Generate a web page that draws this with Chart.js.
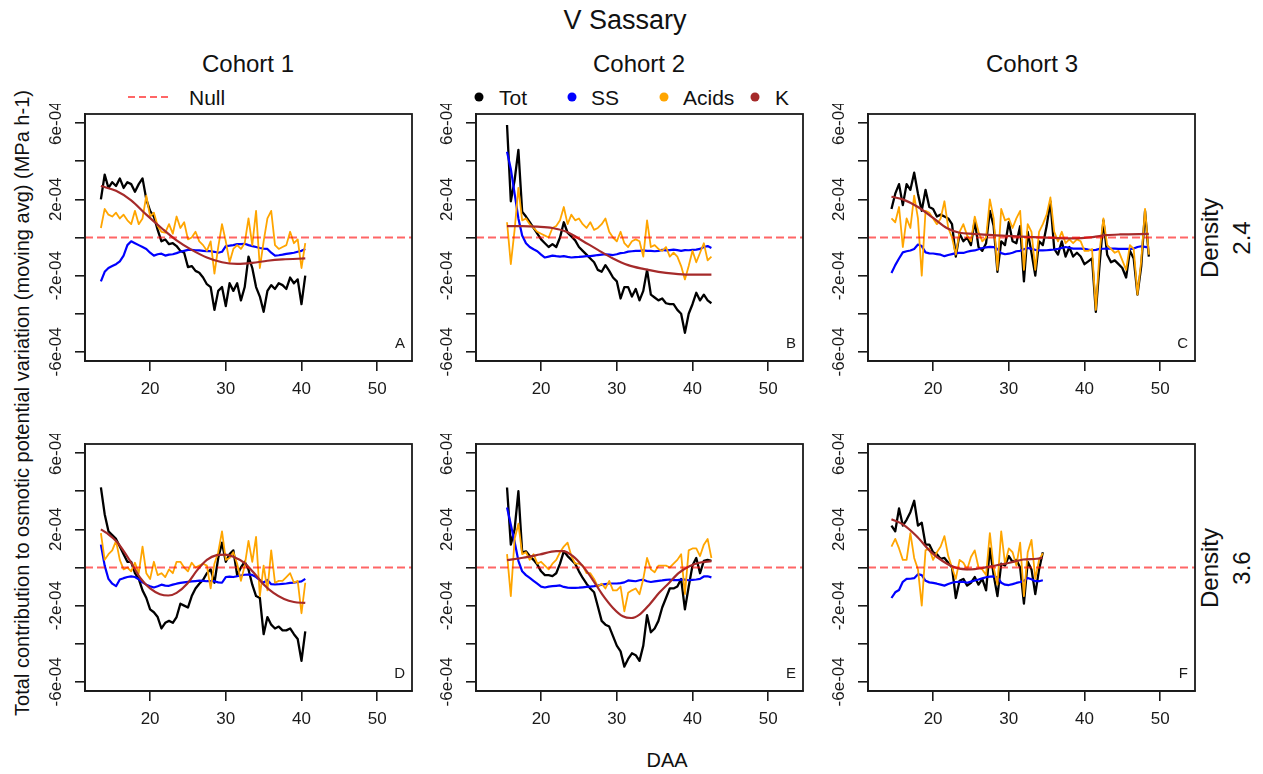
<!DOCTYPE html>
<html>
<head>
<meta charset="utf-8">
<title>V Sassary</title>
<script src="https://cdn.jsdelivr.net/npm/chart.js"></script>
<style>
  body { margin: 0; background: #fff; }
  #page { position: relative; width: 1263px; height: 774px; overflow: hidden; background: #fff; }
  .t { position: absolute; white-space: nowrap; line-height: 1; color: #111;
       font-family: "Liberation Sans", Arial, Helvetica, sans-serif; transform: translate(-50%, -50%); }
  .r { transform: translate(-50%, -50%) rotate(-90deg); }
  .l { transform: translate(0, -50%); }
  .dot { position: absolute; width: 9px; height: 9px; border-radius: 50%; transform: translate(-50%, -50%); }
  canvas { position: absolute; }
</style>
</head>
<body>
<div id="page">
  <div class="t" style="left:625px;top:20px;font-size:27px">V Sassary</div>
  <div class="t" style="left:248px;top:64px;font-size:24px">Cohort 1</div>
  <div class="t" style="left:639px;top:64px;font-size:24px">Cohort 2</div>
  <div class="t" style="left:1032px;top:64px;font-size:24px">Cohort 3</div>

  <svg style="position:absolute;left:128px;top:92px" width="46" height="10">
    <line x1="0" y1="5" x2="44" y2="5" stroke="rgba(255,0,0,0.6)" stroke-width="2" stroke-dasharray="7 4"/>
  </svg>
  <div class="t l" style="left:189px;top:97px;font-size:21px">Null</div>
  <div class="dot" style="left:479px;top:97px;background:#000"></div>
  <div class="t l" style="left:499px;top:97px;font-size:21px">Tot</div>
  <div class="dot" style="left:572px;top:97px;background:#0000FF"></div>
  <div class="t l" style="left:591px;top:97px;font-size:21px">SS</div>
  <div class="dot" style="left:664px;top:97px;background:#FFA500"></div>
  <div class="t l" style="left:683px;top:97px;font-size:21px">Acids</div>
  <div class="dot" style="left:755px;top:97px;background:#A52A2A"></div>
  <div class="t l" style="left:775px;top:97px;font-size:21px">K</div>

  <div class="t r" style="left:1210px;top:238px;font-size:24px">Density</div>
  <div class="t r" style="left:1242px;top:238px;font-size:24px">2.4</div>
  <div class="t r" style="left:1210px;top:568px;font-size:24px">Density</div>
  <div class="t r" style="left:1242px;top:568px;font-size:24px">3.6</div>

  <div class="t r" style="left:22px;top:403px;font-size:20px">Total contribution to osmotic potential variation (moving avg) (MPa h-1)</div>
  <div class="t" style="left:667px;top:760px;font-size:20px">DAA</div>

  <canvas id="pA" width="412" height="307" style="left:10px;top:104px"></canvas>
  <canvas id="pB" width="412" height="307" style="left:401px;top:104px"></canvas>
  <canvas id="pC" width="412" height="307" style="left:793px;top:104px"></canvas>
  <canvas id="pD" width="412" height="307" style="left:10px;top:434px"></canvas>
  <canvas id="pE" width="412" height="307" style="left:401px;top:434px"></canvas>
  <canvas id="pF" width="412" height="307" style="left:793px;top:434px"></canvas>
</div>

<script>
// values are read in units of 1e-4 MPa h-1
const UNIT = 1e-4;
const X_MIN = 11.4, X_MAX = 54.6;
const Y_MIN = -6.48e-4, Y_MAX = 6.48e-4;
const xTickVals = [20, 30, 40, 50];
const yTickVals = [-6e-4, -4e-4, -2e-4, 0, 2e-4, 4e-4, 6e-4];
const yLabelVals = [-6e-4, -2e-4, 2e-4, 6e-4];
const yTickLabels = ['-6e-04', '-2e-04', '2e-04', '6e-04'];
const FONT = '"Liberation Sans", Arial, Helvetica, sans-serif';

// ---- Cohort 1, density 2.4 (A)
const daaA = [13.5,14,14.5,15,15.5,16,16.5,17,17.5,18,18.5,19,19.5,20,20.5,21,21.5,22,22.5,23,23.5,24,24.5,25,25.5,26,26.5,27,27.5,28,28.5,29,29.5,30,30.5,31,31.5,32,32.5,33,33.5,34,34.5,35,35.5,36,36.5,37,37.5,38,38.5,39,39.5,40,40.5];
const totA = [2.0,3.3,2.6,2.9,2.7,3.1,2.6,2.9,2.8,2.4,2.8,3.1,2.0,1.4,1.1,0.4,-0.2,-0.1,-0.35,-0.3,-0.45,-0.7,-0.8,-1.55,-1.5,-1.75,-1.85,-2.1,-2.45,-2.6,-3.8,-2.8,-2.6,-3.6,-2.4,-2.8,-2.4,-3.3,-2.6,-1.0,-1.6,-2.6,-3.1,-3.9,-2.8,-2.5,-2.7,-2.4,-2.5,-2.7,-2.1,-2.4,-2.2,-3.5,-2.0];
const ssA = [-2.3,-1.8,-1.6,-1.5,-1.4,-1.25,-0.95,-0.4,-0.2,-0.3,-0.4,-0.5,-0.6,-0.8,-0.95,-0.88,-0.85,-0.95,-0.9,-0.88,-0.82,-0.75,-0.7,-0.65,-0.65,-0.67,-0.68,-0.7,-0.72,-0.72,-0.75,-0.8,-0.75,-0.45,-0.43,-0.4,-0.35,-0.35,-0.33,-0.4,-0.45,-0.5,-0.55,-0.58,-0.6,-0.8,-0.95,-0.93,-0.9,-0.86,-0.83,-0.8,-0.75,-0.7,-0.6];
const acidsA = [0.5,1.5,1.2,1.1,1.3,1.0,1.2,0.9,0.7,1.4,0.7,1.0,2.2,1.1,1.3,0.6,0.3,0.25,0.7,0.2,1.1,0.5,0.8,-0.1,0.0,0.3,-0.2,-0.4,-0.7,-0.2,-1.9,-0.5,0.7,-0.2,-1.3,-0.6,-0.4,-0.6,-0.3,1.0,-0.4,1.4,-1.6,-0.2,1.0,1.4,-0.4,-0.6,-0.5,-0.4,0.3,-0.3,-0.1,-1.6,-0.3];
const kDaaA = [13.5,15.5,17.5,19.5,21.5,23.5,25.5,27.5,29.5,31.5,33.5,35.5,37.5,40.5];
const kA = [2.7,2.45,1.95,1.2,0.5,-0.15,-0.65,-1.05,-1.3,-1.38,-1.33,-1.22,-1.15,-1.1];

// ---- Cohort 2, density 2.4 (B)
const daaB = [15.5,16,16.5,17,17.5,18,18.5,19,19.5,20,20.5,21,21.5,22,22.5,23,23.5,24,24.5,25,25.5,26,26.5,27,27.5,28,28.5,29,29.5,30,30.5,31,31.5,32,32.5,33,33.5,34,34.5,35,35.5,36,36.5,37,37.5,38,38.5,39,39.5,40,40.5,41,41.5,42,42.5];
const totB = [5.9,1.9,3.0,4.6,1.35,1.1,0.8,0.5,0.2,-0.1,-0.3,-0.5,-0.35,-0.5,0.0,0.8,0.25,0.05,-0.15,-0.5,-0.7,-0.9,-1.1,-1.3,-1.7,-1.8,-1.45,-1.75,-2.1,-2.3,-3.2,-2.6,-2.6,-3.1,-2.7,-3.3,-2.8,-1.7,-3.0,-3.15,-3.3,-3.2,-3.45,-3.5,-3.5,-3.8,-4.0,-5.0,-4.0,-3.5,-2.9,-3.3,-3.0,-3.3,-3.45];
const ssB = [4.5,3.6,2.3,1.0,0.1,-0.3,-0.5,-0.62,-0.72,-0.9,-1.05,-1.0,-0.95,-0.98,-1.0,-0.98,-1.02,-1.05,-1.03,-1.02,-1.0,-0.98,-0.98,-0.95,-0.92,-0.9,-0.88,-0.9,-0.92,-0.88,-0.82,-0.8,-0.74,-0.72,-0.7,-0.7,-0.68,-0.7,-0.7,-0.72,-0.7,-0.65,-0.68,-0.66,-0.64,-0.66,-0.7,-0.66,-0.67,-0.65,-0.64,-0.6,-0.5,-0.45,-0.55];
const acidsB = [0.8,-1.4,0.4,2.6,0.9,1.0,0.7,0.5,0.3,0.2,0.1,0.0,0.5,0.6,0.9,1.6,0.7,1.2,0.9,1.0,0.7,0.5,0.8,0.4,0.5,0.7,1.0,0.3,0.0,-0.2,0.3,-0.3,-0.5,-0.2,-0.1,-0.2,-1.0,0.9,-0.5,-0.4,-0.6,-0.7,-0.5,-1.0,-0.8,-1.0,-1.5,-2.2,-1.5,-0.7,-1.3,-0.8,-0.3,-1.2,-1.0];
const kDaaB = [15.5,17.5,19.5,21.5,23.5,25.5,27.5,29.5,31.5,33.5,35.5,37.5,39.5,42.5];
const kB = [0.6,0.6,0.57,0.5,0.28,-0.18,-0.65,-1.1,-1.45,-1.65,-1.8,-1.9,-1.95,-1.95];

// ---- Cohort 3, density 2.4 (C)
const daaC = [14.5,15,15.5,16,16.5,17,17.5,18,18.5,19,19.5,20,20.5,21,21.5,22,22.5,23,23.5,24,24.5,25,25.5,26,26.5,27,27.5,28,28.5,29,29.5,30,30.5,31,31.5,32,32.5,33,33.5,34,34.5,35,35.5,36,36.5,37,37.5,38,38.5,39,39.5,40,40.5,41,41.5,42,42.5,43,43.5,44,44.5,45,45.5,46,46.5,47,47.5,48,48.5];
const totC = [1.5,2.3,2.8,1.7,2.8,2.5,3.4,2.3,1.4,2.5,
  1.6,1.5,1.1,1.2,1.1,1.0,0.7,-1.0,0.2,-0.2,
  0.0,-0.4,0.9,-0.5,-0.7,-0.3,1.4,0.6,-1.8,-0.2,
  -0.4,0.8,-0.2,-0.3,0.6,-2.3,0.3,-0.8,-2.0,-0.2,
  -0.4,0.6,1.9,-0.6,-0.9,-0.2,-1.0,-0.5,-1.0,-0.8,
  -1.0,-1.4,-1.25,-1.1,-3.9,-1.4,0.9,-0.9,-1.3,-1.2,
  -1.4,-1.6,-2.1,-0.7,-1.1,-3.0,-1.5,1.4,-1.0];
const ssC = [-1.86,-1.45,-1.1,-0.78,-0.72,-0.68,-0.6,-0.37,-0.45,-0.78,
  -0.83,-0.84,-0.87,-0.9,-0.98,-0.92,-0.87,-0.82,-0.81,-0.81,
  -0.75,-0.7,-0.68,-0.62,-0.55,-0.52,-0.49,-0.5,-0.6,-0.82,
  -0.88,-0.85,-0.8,-0.72,-0.7,-0.62,-0.55,-0.6,-0.65,-0.68,
  -0.68,-0.67,-0.65,-0.63,-0.6,-0.55,-0.5,-0.54,-0.58,-0.58,
  -0.58,-0.6,-0.64,-0.67,-0.65,-0.6,-0.59,-0.58,-0.58,-0.58,
  -0.6,-0.6,-0.6,-0.6,-0.58,-0.5,-0.46,-0.49,-0.54];
const acidsC = [1.0,0.8,1.6,-0.5,1.0,0.5,2.2,1.0,-2.0,1.4,
  1.3,1.0,0.7,1.0,1.9,0.5,0.0,-0.9,0.3,0.7,
  0.1,-0.2,1.1,0.3,-0.2,0.0,2.0,1.0,-1.7,1.5,
  0.9,1.0,0.5,1.0,1.4,-1.7,0.7,0.3,-1.7,0.3,
  0.7,1.2,2.1,0.3,-0.2,0.3,-0.3,-0.1,-0.3,-0.1,
  -0.2,-0.7,-0.7,-0.6,-3.8,-0.7,1.0,-0.4,-0.6,-0.8,
  -0.7,-1.2,-1.7,-0.4,-0.6,-3.0,-1.2,1.5,-0.9];
const kDaaC = [14.5,16,18,20,21.8,23.5,25.3,27.9,30.6,33.2,35.9,38.5,41.1,42.9,44.7,48.5];
const kC = [2.14,2.0,1.6,1.03,0.5,0.25,0.19,0.12,0.07,0.02,-0.02,-0.05,0.02,0.12,0.16,0.19];

// ---- Cohort 1, density 3.6 (D)
const daaD = daaA;
const totD = [4.2,2.8,1.9,1.7,1.5,1.1,0.7,0.3,0.3,-0.3,
  -0.6,-1.2,-1.6,-2.2,-2.35,-2.6,-3.2,-2.9,-2.8,-2.9,
  -2.6,-1.9,-2.0,-2.1,-1.5,-1.1,-0.85,-0.65,-0.3,-0.1,
  -0.8,0.5,1.3,0.3,0.7,0.9,-0.4,0.0,0.3,-0.1,
  -0.9,-1.5,-1.6,-3.5,-2.6,-3.0,-3.2,-3.1,-3.3,-3.3,
  -3.2,-3.5,-3.75,-4.9,-3.35];
const ssD = [1.2,0.1,-0.6,-0.85,-0.98,-0.63,-0.56,-0.5,-0.47,-0.5,
  -0.62,-0.78,-0.9,-0.98,-1.05,-0.98,-0.9,-0.95,-0.96,-0.9,
  -0.85,-0.81,-0.78,-0.75,-0.73,-0.71,-0.69,-0.7,-0.72,-0.71,
  -0.72,-0.78,-0.8,-0.5,-0.48,-0.5,-0.46,-0.42,-0.38,-0.37,
  -0.39,-0.5,-0.66,-0.8,-0.65,-0.88,-0.89,-0.88,-0.86,-0.84,
  -0.81,-0.79,-0.76,-0.73,-0.6];
const acidsD = [1.8,0.4,0.7,0.9,1.4,0.4,-0.1,0.0,-0.2,0.25,
  -0.3,1.1,-0.3,-0.6,0.3,-0.4,-0.3,-0.5,-0.1,-0.3,
  0.3,0.3,0.0,-0.2,0.25,0.0,0.1,0.2,0.1,-1.1,
  0.2,0.8,1.9,0.4,0.5,0.8,0.2,-0.7,0.1,1.4,
  0.3,1.6,-1.5,0.1,-1.2,0.9,-0.8,-0.7,-0.7,-0.5,
  -0.3,-0.8,-0.7,-2.4,-0.8];
const kDaaD = [13.5,14.3,15.6,17.35,18.7,20,21.3,22.4,23.5,24.9,26.2,27.5,28.8,29.9,31,32.4,33.7,35,36.3,37.7,39,40.5];
const kD = [2.0,1.8,1.35,0.35,-0.55,-1.1,-1.4,-1.47,-1.33,-0.85,-0.15,0.4,0.65,0.68,0.56,0.25,-0.28,-0.89,-1.33,-1.65,-1.81,-1.86];

// ---- Cohort 2, density 3.6 (E)
const daaE = daaB;
const totE = [4.2,1.2,2.0,4.0,0.8,0.85,0.6,0.4,0.15,-0.2,
  -0.4,-0.4,-0.45,-0.3,0.2,0.85,0.6,0.4,0.2,-0.2,
  -0.55,-0.85,-1.1,-1.3,-2.05,-2.8,-3.0,-3.1,-3.6,-4.1,
  -4.4,-5.2,-4.8,-4.5,-4.6,-4.9,-4.1,-2.5,-3.4,-3.2,
  -2.8,-2.1,-1.6,-1.1,-1.1,-1.0,-0.6,-2.2,-1.0,0.1,
  0.5,-0.3,0.35,0.4,0.35];
const ssE = [3.15,2.25,1.35,0.35,-0.2,-0.4,-0.55,-0.7,-0.85,-1.0,
  -1.05,-1.0,-0.98,-0.96,-0.94,-1.02,-1.06,-1.07,-1.07,-1.06,
  -1.04,-1.02,-1.0,-0.98,-0.95,-0.9,-0.87,-0.84,-0.84,-0.84,
  -0.82,-0.78,-0.68,-0.7,-0.72,-0.67,-0.64,-0.72,-0.76,-0.73,
  -0.7,-0.68,-0.65,-0.63,-0.66,-0.66,-0.64,-0.64,-0.67,-0.65,
  -0.63,-0.6,-0.47,-0.46,-0.52];
const acidsE = [0.7,-1.5,1.5,2.3,0.7,0.8,0.4,0.7,0.2,0.3,
  0.1,-0.1,0.2,0.4,0.8,1.1,1.3,0.6,0.2,0.2,
  0.1,-0.3,-0.3,-0.6,-1.0,-0.85,-1.1,-0.7,-1.2,-1.2,
  -1.0,-2.3,-1.33,-1.2,-1.1,-1.4,-0.6,0.5,-0.1,-0.25,
  0.1,0.1,0.1,0.0,0.2,0.4,0.7,-1.4,0.9,1.0,
  1.0,0.6,1.2,1.5,0.5];
const kDaaE = [15.5,17.6,19.8,22.0,22.9,24.2,25.5,26.8,28.1,29.5,30.8,31.9,33.0,34.3,35.6,36.9,38.2,39.6,40.9,42.5];
const kE = [0.39,0.51,0.68,0.86,0.86,0.6,0.07,-0.63,-1.42,-2.12,-2.56,-2.65,-2.47,-1.95,-1.33,-0.81,-0.28,0.07,0.25,0.33];

// ---- Cohort 3, density 3.6 (F)
const daaF = [14.5,15,15.5,16,16.5,17,17.5,18,18.5,19,19.5,20,20.5,21,21.5,22,22.5,23,23.5,24,24.5,25,25.5,26,26.5,27,27.5,28,28.5,29,29.5,30,30.5,31,31.5,32,32.5,33,33.5,34,34.5];
const totF = [2.2,1.9,3.1,2.2,2.5,2.9,3.5,2.2,2.35,1.2,
  1.2,0.8,0.7,0.45,0.5,0.25,0.0,-1.6,-0.7,-0.6,
  -0.95,-0.8,-0.5,-0.9,-0.6,-1.2,1.0,-0.4,-1.5,0.2,
  0.1,0.6,0.3,0.4,0.0,-1.9,0.3,-0.1,-1.4,-0.1,
  0.8];
const ssF = [-1.6,-1.3,-1.18,-0.75,-0.6,-0.59,-0.56,-0.35,-0.4,-0.7,
  -0.78,-0.81,-0.85,-0.9,-0.95,-0.87,-0.8,-0.76,-0.75,-0.75,
  -0.8,-0.74,-0.68,-0.63,-0.57,-0.51,-0.48,-0.47,-0.52,-0.8,
  -0.9,-0.92,-0.87,-0.81,-0.76,-0.7,-0.55,-0.62,-0.72,-0.72,
  -0.67];
const acidsF = [1.1,1.5,1.0,0.4,0.4,1.8,0.5,-0.1,-2.0,0.9,
  1.0,0.4,0.8,1.1,1.65,0.6,0.0,-0.6,0.4,0.25,
  -0.1,0.55,0.9,0.0,-0.1,-0.4,1.8,0.0,-0.9,1.9,
  0.2,1.0,0.8,0.1,1.3,-1.5,0.8,1.45,-0.6,0.4,
  0.75];
const kDaaF = [14.5,16.0,17.8,19.6,21.3,23.1,24.9,26.6,28.4,30.1,31.9,33.7,34.45];
const kF = [2.53,2.26,1.65,0.86,0.33,-0.02,-0.1,-0.02,0.12,0.25,0.42,0.46,0.51];

const COLORS = { tot: '#000000', ss: '#0000FF', acids: '#FFA500', k: '#A52A2A', nul: 'rgba(255,0,0,0.6)' };
const INK = '#1a1a1a';

const pts = (xs, ys) => xs.map((x, i) => ({ x: x, y: ys[i] * UNIT }));

// frame, rotated y tick labels, panel letter
const panelDecor = {
  id: 'panelDecor',
  afterDraw(chart, args, opts) {
    const ctx = chart.ctx, a = chart.chartArea, y = chart.scales.y;
    ctx.save();
    ctx.strokeStyle = INK;
    ctx.lineWidth = 1.8;
    ctx.strokeRect(a.left, a.top, a.right - a.left, a.bottom - a.top);
    ctx.fillStyle = INK;
    ctx.font = '17px ' + FONT;
    ctx.textAlign = 'center';
    ctx.textBaseline = 'middle';
    yLabelVals.forEach((v, i) => {
      ctx.save();
      ctx.translate(a.left - 29, y.getPixelForValue(v));
      ctx.rotate(-Math.PI / 2);
      ctx.fillText(yTickLabels[i], 0, 0);
      ctx.restore();
    });
    ctx.font = '15px ' + FONT;
    ctx.textAlign = 'right';
    ctx.fillText(opts.letter, a.right - 7, a.bottom - 17);
    ctx.restore();
  }
};

function axisStyle() {
  return {
    grid: { drawOnChartArea: false, drawTicks: true, tickLength: 10, color: INK, lineWidth: 1.6 },
    border: { display: true, color: INK, width: 1.8 }
  };
}

function makePanel(id, letter, xs, tot, ss, acids, kx, k) {
  new Chart(document.getElementById(id), {
    type: 'line',
    data: {
      datasets: [
        { label: 'Null', data: [{ x: X_MIN, y: 0 }, { x: X_MAX, y: 0 }], borderColor: COLORS.nul, borderWidth: 2.2, borderDash: [8, 4] },
        { label: 'K', data: pts(kx, k), borderColor: COLORS.k, borderWidth: 2.2, cubicInterpolationMode: 'monotone' },
        { label: 'Acids', data: pts(xs, acids), borderColor: COLORS.acids, borderWidth: 1.8 },
        { label: 'SS', data: pts(xs, ss), borderColor: COLORS.ss, borderWidth: 2.2 },
        { label: 'Tot', data: pts(xs, tot), borderColor: COLORS.tot, borderWidth: 2.3 }
      ]
    },
    options: {
      responsive: false,
      animation: false,
      events: [],
      layout: { padding: { left: 0, top: 10, right: 10, bottom: 0 } },
      elements: { point: { radius: 0 }, line: { tension: 0, fill: false, borderJoinStyle: 'round' } },
      plugins: { legend: { display: false }, tooltip: { enabled: false }, panelDecor: { letter: letter } },
      scales: {
        x: Object.assign({
          type: 'linear', min: X_MIN, max: X_MAX,
          afterBuildTicks: s => { s.ticks = xTickVals.map(v => ({ value: v })); },
          afterFit: s => { s.height = 50; },
          ticks: { font: { size: 17, family: FONT }, color: INK, padding: 8, maxRotation: 0, autoSkip: false }
        }, axisStyle()),
        y: Object.assign({
          type: 'linear', min: Y_MIN, max: Y_MAX,
          afterBuildTicks: s => { s.ticks = yTickVals.map(v => ({ value: v })); },
          afterFit: s => { s.width = 75; },
          ticks: { display: false }
        }, axisStyle())
      }
    },
    plugins: [panelDecor]
  });
}

makePanel('pA', 'A', daaA, totA, ssA, acidsA, kDaaA, kA);
makePanel('pB', 'B', daaB, totB, ssB, acidsB, kDaaB, kB);
makePanel('pC', 'C', daaC, totC, ssC, acidsC, kDaaC, kC);
makePanel('pD', 'D', daaD, totD, ssD, acidsD, kDaaD, kD);
makePanel('pE', 'E', daaE, totE, ssE, acidsE, kDaaE, kE);
makePanel('pF', 'F', daaF, totF, ssF, acidsF, kDaaF, kF);
</script>
</body>
</html>
